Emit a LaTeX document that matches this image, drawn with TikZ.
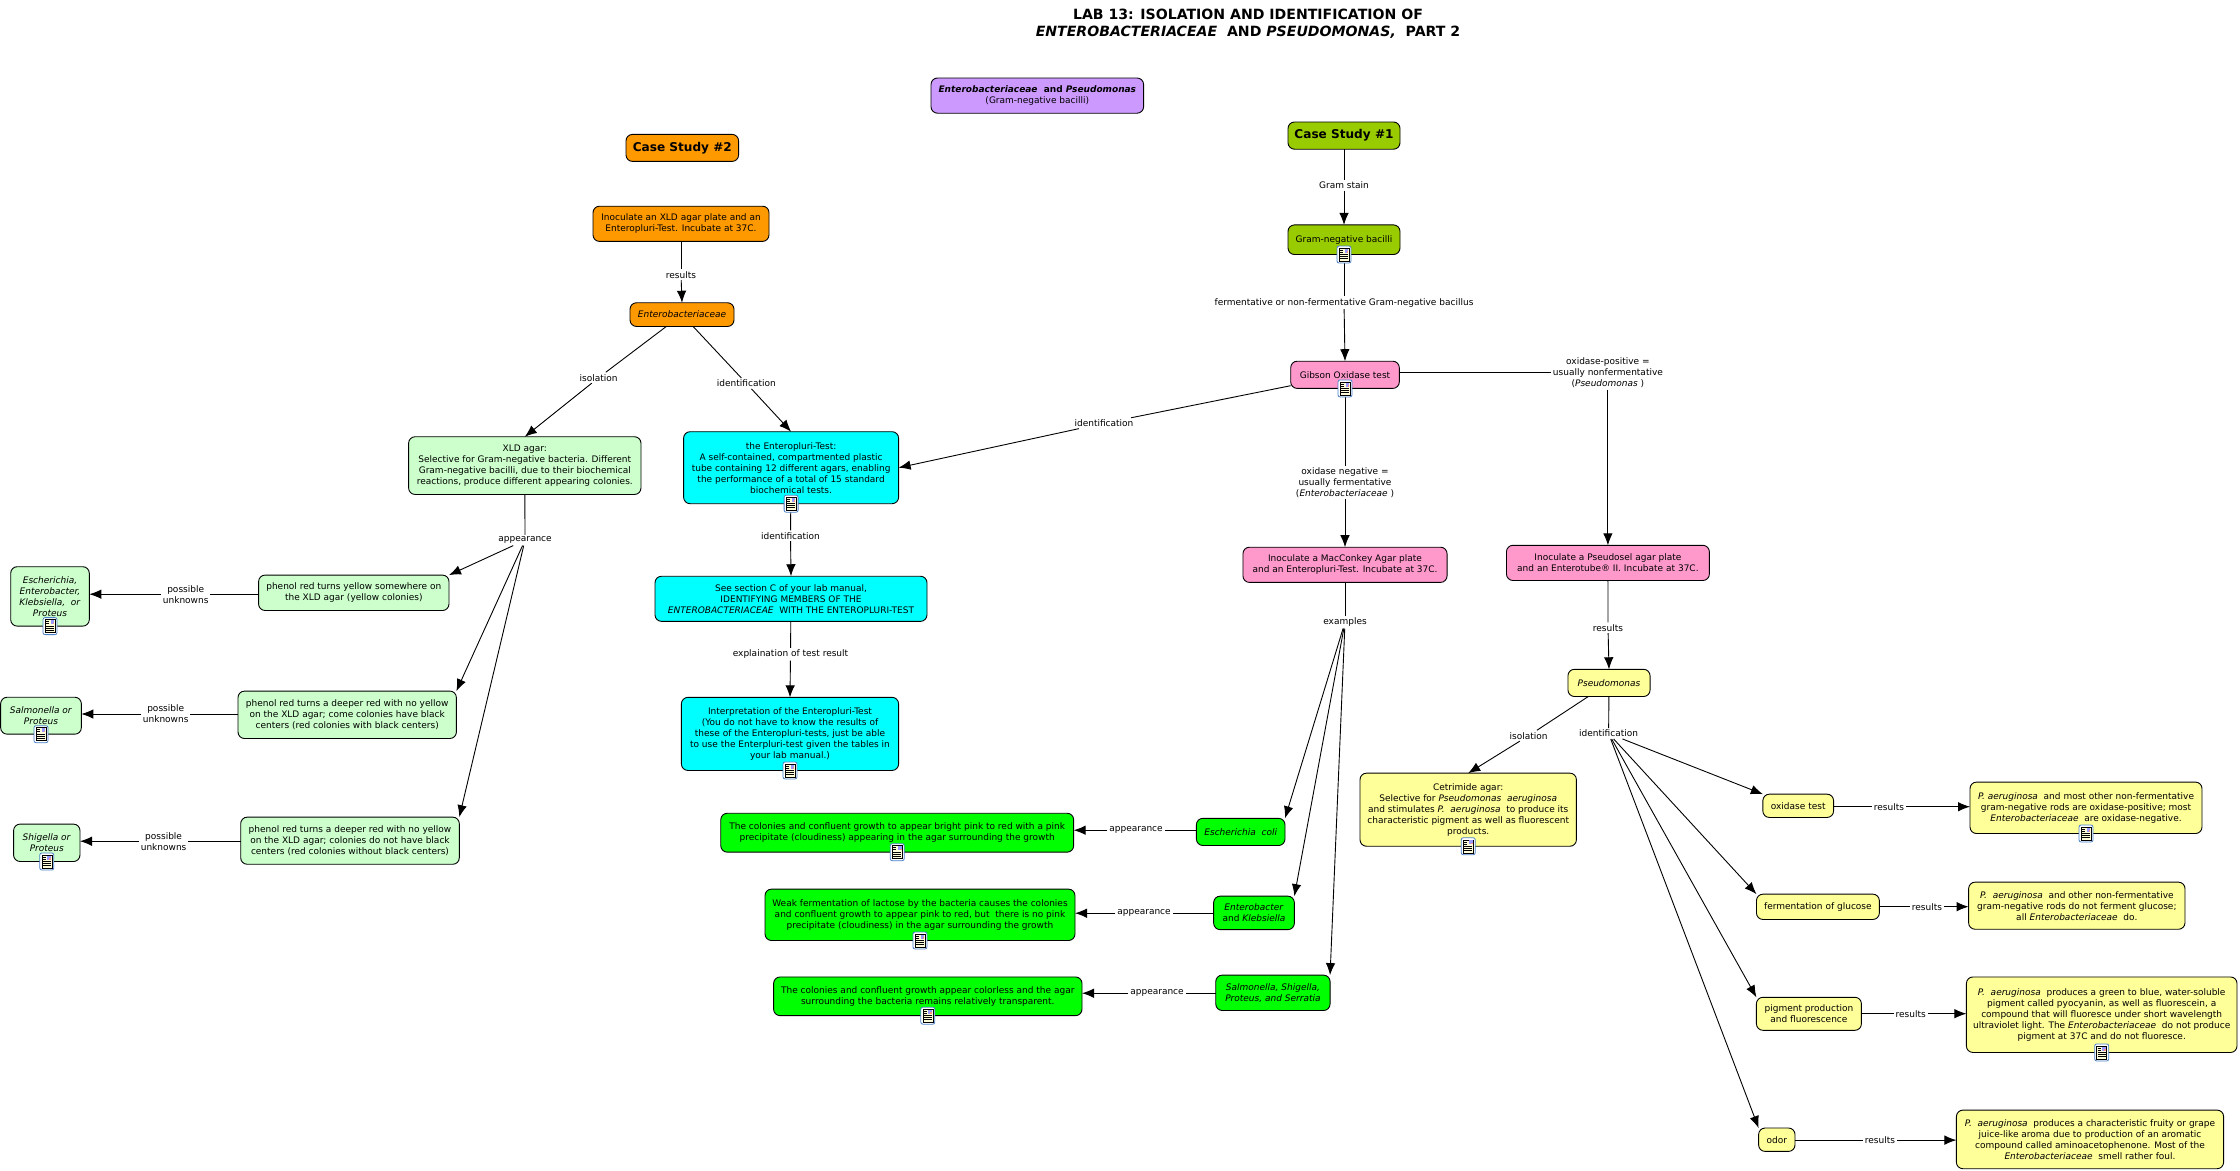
\documentclass[tikz,border=0pt]{standalone}
\usepackage{fontspec}
\setmainfont{DejaVu Sans}
\usetikzlibrary{arrows.meta,positioning}

\definecolor{conceptpurple}{HTML}{CC99FF}
\definecolor{conceptorange}{HTML}{FF9900}
\definecolor{conceptlime}{HTML}{99CC00}
\definecolor{conceptpink}{HTML}{FF99CC}
\definecolor{conceptcyan}{HTML}{00FFFF}
\definecolor{conceptmint}{HTML}{CCFFCC}
\definecolor{conceptgreen}{HTML}{00FF00}
\definecolor{conceptyellow}{HTML}{FFFF99}
\definecolor{iconblue}{HTML}{4A80C8}

\begin{document}
\begin{tikzpicture}[
    x=1pt, y=-1pt,
    font=\fontsize{9}{11}\selectfont,
    >={Latex[length=12pt,width=9.5pt]},
    line width=0.9pt,
    size/.style 2 args={minimum width=#1pt, minimum height=#2pt},
    base/.style={draw, rounded corners=6.5pt, inner sep=0pt, outer sep=0pt, align=center},
    purplebox/.style={base, fill=conceptpurple},
    orangebox/.style={base, fill=conceptorange},
    limebox/.style={base, fill=conceptlime},
    pinkbox/.style={base, fill=conceptpink},
    cyanbox/.style={base, fill=conceptcyan},
    mintbox/.style={base, fill=conceptmint},
    greenbox/.style={base, fill=conceptgreen},
    yellowbox/.style={base, fill=conceptyellow},
    casefont/.style={font=\fontsize{12.1}{14}\selectfont\bfseries},
    linklabel/.style={inner sep=1.5pt, align=center},
    docicon/.pic={
        \draw[iconblue, fill=white, rounded corners=2pt, line width=0.8pt] (-7,-8.5) rectangle (7,8.5);
        \draw[fill=yellow!15, line width=0.5pt] (-5,-6.5) rectangle (5,6.5);
        \fill[blue!40] (0.5,-5.8) rectangle (4.3,-1.8);
        \fill[red!45] (2.5,-3.6) rectangle (4.3,-1.8);
        \foreach \ly in {-4.5,-2.5} \draw[line width=0.5pt] (-4,\ly) -- (-1,\ly);
        \foreach \ly in {0,2,4} \draw[line width=0.5pt] (-4,\ly) -- (4,\ly);
    }
]
\useasboundingbox (0,-0.7) rectangle (2240,1169.3);

\node[linklabel, font=\fontsize{14.1}{17}\selectfont\bfseries] (title) at (1248,23.5) {LAB 13: ISOLATION AND IDENTIFICATION OF\\\textit{ENTEROBACTERIACEAE}~~AND \textit{PSEUDOMONAS,}~~PART 2};

\node[purplebox, size={212.6}{35.2}] (family) at (1037.3,94.9) {\textbf{\textit{Enterobacteriaceae}~~and~\textit{Pseudomonas}}~\\(Gram-negative bacilli)};

\node[orangebox, size={112.6}{27}, casefont] (casetwo) at (682.3,147.2) {Case Study \#2};
\node[orangebox, size={176}{35.2}] (inoculatexld) at (681,223.1) {Inoculate an XLD agar plate and an\\Enteropluri-Test. Incubate at 37C.};
\node[orangebox, size={104}{23.7}] (entero) at (682,313.9) {\textit{Enterobacteriaceae}};

\node[mintbox, size={232.4}{57.7}] (xldagar) at (524.8,464.9) {XLD agar:\\Selective for Gram-negative bacteria. Different\\Gram-negative bacilli, due to their biochemical\\reactions, produce different appearing colonies.};
\node[mintbox, size={190.4}{35.4}] (phenola) at (353.8,592.1) {phenol red turns yellow somewhere on\\the XLD agar (yellow colonies)};
\node[mintbox, size={218.4}{47.4}] (phenolb) at (347.2,714.1) {phenol red turns a deeper red with no yellow\\on the XLD agar; come colonies have black\\centers (red colonies with black centers)};
\node[mintbox, size={218.6}{47.1}] (phenolc) at (350,840) {phenol red turns a deeper red with no yellow\\on the XLD agar; colonies do not have black\\centers (red colonies without black centers)};
\node[mintbox, size={78.6}{59.4}] (unknowna) at (50,595.7) {\textit{Escherichia,}\\\textit{Enterobacter,}\\\textit{Klebsiella,~~or}\\\textit{Proteus}};
\node[mintbox, size={80.7}{36.9}] (unknownb) at (41,715) {\textit{Salmonella or}\\\textit{Proteus}};
\node[mintbox, size={66.4}{37.4}] (unknownc) at (46.8,842.1) {\textit{Shigella or}\\\textit{Proteus}};

\node[cyanbox, size={215}{72}] (pluritest) at (791.1,467) {the Enteropluri-Test:\\A self-contained, compartmented plastic\\tube containing 12 different agars, enabling\\the performance of a total of 15 standard\\biochemical tests.};
\node[cyanbox, size={272}{45.1}] (sectionc) at (791,598.1) {See section C of your lab manual,\\IDENTIFYING MEMBERS OF THE\\\textit{ENTEROBACTERIACEAE}~~WITH THE ENTEROPLURI-TEST};
\node[cyanbox, size={217.2}{73.1}] (interpret) at (790,733.2) {Interpretation of the Enteropluri-Test\\(You do not have to know the results of\\these of the Enteropluri-tests, just be able\\to use the Enterpluri-test given the tables in\\your lab manual.)};

\node[limebox, size={112}{27.2}, casefont] (caseone) at (1344,134.9) {Case Study \#1};
\node[limebox, size={112}{29.6}] (gramneg) at (1344,239) {Gram-negative bacilli};
\node[pinkbox, size={108.6}{27.2}] (gibson) at (1345,374.1) {Gibson Oxidase test};
\node[pinkbox, size={204.1}{35.2}] (maconkey) at (1345,564.1) {Inoculate a MacConkey Agar plate\\and an Enteropluri-Test. Incubate at 37C.};
\node[pinkbox, size={202.9}{35.2}] (pseudosel) at (1607.9,562.2) {Inoculate a Pseudosel agar plate\\and an Enterotube® II. Incubate at 37C.};

\node[greenbox, size={88.6}{27.2}] (ecoli) at (1240.7,831.2) {\textit{Escherichia~~coli}};
\node[greenbox, size={80.7}{33.5}] (enterobacter) at (1254,912.2) {\textit{Enterobacter}\\and \textit{Klebsiella}};
\node[greenbox, size={114.3}{35.4}] (salmonella) at (1272.9,992.1) {\textit{Salmonella, Shigella,}\\\textit{Proteus, and Serratia}};
\node[greenbox, size={352.9}{38.9}] (coloniesa) at (897.2,832) {The colonies and confluent growth to appear bright pink to red with a pink\\precipitate (cloudiness) appearing in the agar surrounding the growth};
\node[greenbox, size={310}{51.4}] (coloniesb) at (920,914.1) {Weak fermentation of lactose by the bacteria causes the colonies\\and confluent growth to appear pink to red, but~~there is no pink\\precipitate (cloudiness) in the agar surrounding the growth};
\node[greenbox, size={308.4}{38.7}] (coloniesc) at (927.8,995.6) {The colonies and confluent growth appear colorless and the agar\\surrounding the bacteria remains relatively transparent.};

\node[yellowbox, size={82.1}{27.2}] (pseudomonas) at (1609,682.2) {\textit{Pseudomonas}};
\node[yellowbox, size={216.4}{73.1}] (cetrimide) at (1468.2,809) {Cetrimide agar:\\Selective for \textit{Pseudomonas~~aeruginosa}\\and stimulates \textit{P.~~aeruginosa}~~to produce its\\characteristic pigment as well as fluorescent\\products.};
\node[yellowbox, size={70.7}{23.3}] (oxidase) at (1798.2,805.1) {oxidase test};
\node[yellowbox, size={122.9}{25.3}] (glucose) at (1817.9,906.1) {fermentation of glucose};
\node[yellowbox, size={105}{33}] (pigment) at (1808.9,1013.1) {pigment production\\and fluorescence};
\node[yellowbox, size={36.4}{23.4}] (odor) at (1776.8,1139) {odor};
\node[yellowbox, size={232}{51.4}] (resulta) at (2086,807.1) {\textit{P. aeruginosa}~~and most other non-fermentative\\gram-negative rods are oxidase-positive; most\\\textit{Enterobacteriaceae}~~are oxidase-negative.};
\node[yellowbox, size={216.4}{47.1}] (resultb) at (2076.8,905) {\textit{P.~~aeruginosa}~~and other non-fermentative\\gram-negative rods do not ferment glucose;\\all \textit{Enterobacteriaceae}~~do.};
\node[yellowbox, size={270.6}{75.5}] (resultc) at (2101.7,1014) {\textit{P.~~aeruginosa}~~produces a green to blue, water-soluble\\pigment called pyocyanin, as well as fluorescein, a\\compound that will fluoresce under short wavelength\\ultraviolet light. The \textit{Enterobacteriaceae}~~do not produce\\pigment at 37C and do not fluoresce.};
\node[yellowbox, size={267.2}{58.6}] (resultd) at (2090,1138.7) {\textit{P.~~aeruginosa}~~produces a characteristic fruity or grape\\juice-like aroma due to production of an aromatic\\compound called aminoacetophenone. Most of the\\\textit{Enterobacteriaceae}~~smell rather foul.};

\node[linklabel] (resultslab) at (681,274) {results};
\node[linklabel] (isolationlab) at (598.6,377) {isolation};
\node[linklabel] (identlab) at (746.4,382.7) {identification};
\node[linklabel] (appearlab) at (525,539.5) {appearance};
\node[linklabel] (pluriidentlab) at (790.5,535) {identification};
\node[linklabel] (explainlab) at (790.5,653.5) {explaination of test result};
\node[linklabel] (possiblea) at (185.7,593.5) {possible\\unknowns};
\node[linklabel] (possibleb) at (165.7,713.3) {possible\\unknowns};
\node[linklabel] (possiblec) at (163.6,840.5) {possible\\unknowns};
\node[linklabel] (gramstainlab) at (1344,184.5) {Gram stain};
\node[linklabel] (fermentlab) at (1344,302) {fermentative or non-fermentative Gram-negative bacillus};
\node[linklabel] (gibsonidentlab) at (1104,422.5) {identification};
\node[linklabel] (positivelab) at (1607.9,372) {oxidase-positive =\\usually nonfermentative\\(\textit{Pseudomonas} )};
\node[linklabel] (negativelab) at (1345,481.8) {oxidase negative =\\usually fermentative\\(\textit{Enterobacteriaceae} )};
\node[linklabel] (examplelab) at (1345,621.5) {examples};
\node[linklabel] (appearlaba) at (1136,829.5) {appearance};
\node[linklabel] (appearlabb) at (1144,912.5) {appearance};
\node[linklabel] (appearlabc) at (1157,992.5) {appearance};
\node[linklabel] (pseudoresultlab) at (1608,627) {results};
\node[linklabel] (pseudoisollab) at (1528.6,735) {isolation};
\node[linklabel] (pseudoidentlab) at (1608.6,732.8) {identification};
\node[linklabel] (resultlaba) at (1889,806) {results};
\node[linklabel] (resultlabb) at (1927,906) {results};
\node[linklabel] (resultlabc) at (1910.7,1013) {results};
\node[linklabel] (resultlabd) at (1880,1139.4) {results};

\draw (inoculatexld) -- (resultslab);
\draw[->] (resultslab) -- (entero.north);
\draw (entero) -- (isolationlab);
\draw[->] (isolationlab) -- (xldagar.north);
\draw (entero) -- (identlab);
\draw[->] (identlab) -- (pluritest.north);
\draw (xldagar) -- (appearlab);
\draw[->] (appearlab) -- (phenola.north east);
\draw[->] (appearlab) -- (phenolb.north east);
\draw[->] (appearlab) -- (phenolc.north east);
\draw (phenola.west |- possiblea) -- (possiblea);
\draw[->] (possiblea) -- (possiblea -| unknowna.east);
\draw (phenolb.west |- possibleb) -- (possibleb);
\draw[->] (possibleb) -- (possibleb -| unknownb.east);
\draw (phenolc.west |- possiblec) -- (possiblec);
\draw[->] (possiblec) -- (possiblec -| unknownc.east);
\draw (pluritest) -- (pluriidentlab);
\draw[->] (pluriidentlab) -- (sectionc.north);
\draw (sectionc) -- (explainlab);
\draw[->] (explainlab) -- (interpret.north);

\draw (caseone) -- (gramstainlab);
\draw[->] (gramstainlab) -- (gramneg.north);
\draw (gramneg) -- (fermentlab);
\draw[->] (fermentlab) -- (gibson.north);
\draw (gibson) -- (gibsonidentlab);
\draw[->] (gibsonidentlab) -- (pluritest.east);
\draw (gibson.east |- positivelab) -- (positivelab);
\draw[->] (positivelab) -- (pseudosel.north);
\draw (gibson) -- (negativelab);
\draw[->] (negativelab) -- (maconkey.north);
\draw (maconkey) -- (examplelab);
\draw[->] (examplelab) -- (ecoli.north east);
\draw[->] (examplelab) -- (enterobacter.north east);
\draw[->] (examplelab) -- (salmonella.north east);
\draw (ecoli.west |- appearlaba) -- (appearlaba);
\draw[->] (appearlaba) -- (appearlaba -| coloniesa.east);
\draw (enterobacter.west |- appearlabb) -- (appearlabb);
\draw[->] (appearlabb) -- (appearlabb -| coloniesb.east);
\draw (salmonella.west |- appearlabc) -- (appearlabc);
\draw[->] (appearlabc) -- (appearlabc -| coloniesc.east);

\draw (pseudosel) -- (pseudoresultlab);
\draw[->] (pseudoresultlab) -- (pseudomonas.north);
\draw (pseudomonas) -- (pseudoisollab);
\draw[->] (pseudoisollab) -- (cetrimide.north);
\draw (pseudomonas) -- (pseudoidentlab);
\draw[->] (pseudoidentlab) -- (oxidase.north west);
\draw[->] (pseudoidentlab) -- (glucose.north west);
\draw[->] (pseudoidentlab) -- (pigment.north west);
\draw[->] (pseudoidentlab) -- (odor.north west);
\draw (oxidase.east |- resultlaba) -- (resultlaba);
\draw[->] (resultlaba) -- (resultlaba -| resulta.west);
\draw (glucose.east |- resultlabb) -- (resultlabb);
\draw[->] (resultlabb) -- (resultlabb -| resultb.west);
\draw (pigment.east |- resultlabc) -- (resultlabc);
\draw[->] (resultlabc) -- (resultlabc -| resultc.west);
\draw (odor.east |- resultlabd) -- (resultlabd);
\draw[->] (resultlabd) -- (resultlabd -| resultd.west);

\foreach \target in {gramneg,gibson,pluritest,interpret,unknowna,unknownb,unknownc,coloniesa,coloniesb,coloniesc,cetrimide,resulta,resultc}
    \pic at (\target.south) {docicon};
\end{tikzpicture}
\end{document}
